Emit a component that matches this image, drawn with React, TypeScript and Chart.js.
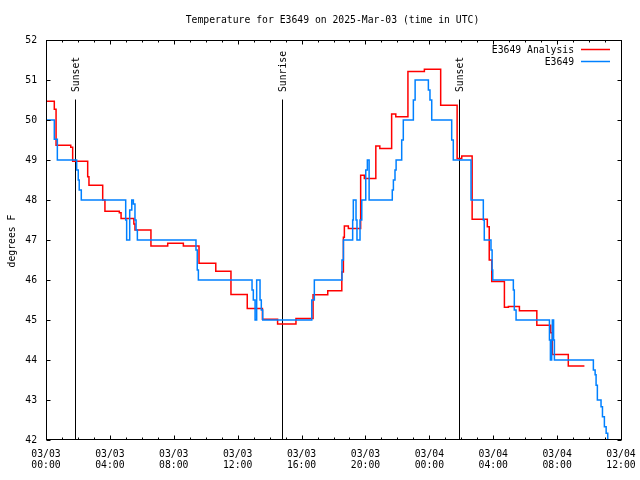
import { useEffect, useRef } from "react";
import { Chart, registerables } from "chart.js";

Chart.register(...registerables);

// ---- data (hours since 03/03 00:00 UTC) ----
const analysisTimes = [0, 0.52, 0.63, 1.55, 1.67, 2.61, 2.69, 3.55, 3.69, 4.59, 4.7, 5.5, 5.57, 6.57, 7.62, 8.6, 9.58, 10.63, 11.58, 12.6, 13.55, 14.5, 15.65, 16.72, 17.64, 18.52, 18.62, 18.68, 18.93, 19.7, 19.93, 20.65, 20.9, 21.64, 21.9, 22.66, 23.69, 24.71, 25.74, 26.03, 26.68, 27.63, 27.75, 27.91, 28.7, 28.95, 29.64, 30.73, 31.6, 31.7, 32.7, 33.71];
const analysisTemps = [50.47, 50.27, 49.37, 49.32, 48.97, 48.58, 48.37, 48.0, 47.72, 47.68, 47.54, 47.4, 47.25, 46.85, 46.92, 46.85, 46.42, 46.22, 45.64, 45.29, 45.02, 44.9, 45.04, 45.63, 45.73, 46.2, 47.07, 47.35, 47.29, 48.62, 48.54, 49.35, 49.29, 50.15, 50.08, 51.21, 51.27, 50.37, 49.04, 49.1, 47.52, 47.33, 46.5, 45.96, 45.32, 45.34, 45.23, 44.87, 44.68, 44.14, 43.85, 43.85];

const obsTimes = [0, 0.52, 0.71, 1.92, 2.02, 2.08, 2.21, 4.99, 5.05, 5.24, 5.37, 5.47, 5.57, 5.64, 5.72, 9.39, 9.47, 9.54, 12.9, 12.98, 13.09, 13.19, 13.4, 13.48, 13.57, 16.64, 16.8, 18.53, 18.62, 19.2, 19.24, 19.41, 19.47, 19.66, 19.77, 20.02, 20.12, 20.23, 21.68, 21.75, 21.85, 21.92, 22.27, 22.37, 23.0, 23.11, 23.94, 24.04, 24.15, 25.4, 25.5, 26.61, 27.38, 27.44, 27.86, 27.93, 27.97, 29.26, 29.32, 29.43, 31.52, 31.58, 31.66, 31.7, 31.78, 31.83, 34.27, 34.38, 34.44, 34.52, 34.75, 34.84, 34.96, 35.07, 35.17, 35.25];
const obsTemps = [50.0, 49.52, 49.0, 48.75, 48.5, 48.25, 48.0, 47.5, 47.0, 47.75, 48.0, 47.9, 47.5, 47.25, 47.0, 46.75, 46.25, 46.0, 45.75, 45.5, 45.0, 46.0, 45.5, 45.25, 45.0, 45.5, 46.0, 46.5, 47.0, 47.5, 48.0, 47.5, 47.0, 47.5, 48.0, 48.75, 49.0, 48.0, 48.25, 48.5, 48.75, 49.0, 49.5, 50.0, 50.5, 51.0, 50.75, 50.5, 50.0, 49.5, 49.0, 48.0, 47.5, 47.0, 46.75, 46.25, 46.0, 45.75, 45.25, 45.0, 44.5, 44.0, 44.5, 45.0, 44.5, 44.0, 43.75, 43.63, 43.37, 43.0, 42.83, 42.58, 42.33, 42.17, 42.0, 41.8];

const xTickLabels = [
  ["03/03", "00:00"], ["03/03", "04:00"], ["03/03", "08:00"], ["03/03", "12:00"], ["03/03", "16:00"],
  ["03/03", "20:00"], ["03/04", "00:00"], ["03/04", "04:00"], ["03/04", "08:00"], ["03/04", "12:00"],
];
const eventTimes = [1.835, 14.8, 25.88];
const eventLabels = ["Sunset", "Sunrise", "Sunset"];
const seriesNames = ["E3649 Analysis", "E3649"];
const seriesColors = ["#ff0000", "#0080ff"];
const titleText = "Temperature for E3649 on 2025-Mar-03 (time in UTC)";
const yTitle = "degrees F";

const FONT = "'DejaVu Sans Mono', 'Liberation Mono', monospace";
const FS = 9.75;

const decorPlugin = {
  id: "decor",
  beforeDatasetsDraw(chart: any) {
    const { ctx, chartArea, scales } = chart;
    const x = scales.x;
    ctx.save();
    ctx.strokeStyle = "#000";
    ctx.lineWidth = 1;
    ctx.fillStyle = "#000";
    ctx.font = `${FS}px ${FONT}`;
    eventTimes.forEach((t, i) => {
      const px = Math.round(x.getPixelForValue(t)) + 0.5;
      ctx.beginPath();
      ctx.moveTo(px, 99.5);
      ctx.lineTo(px, chartArea.bottom);
      ctx.stroke();
      ctx.save();
      ctx.translate(px + 1, 92);
      ctx.rotate(-Math.PI / 2);
      ctx.textAlign = "left";
      ctx.textBaseline = "middle";
      ctx.fillText(eventLabels[i], 0, 0);
      ctx.restore();
    });
    ctx.restore();
  },
  afterDraw(chart: any) {
    const { ctx, chartArea, scales } = chart;
    const { left, right, top, bottom } = chartArea;
    const x = scales.x;
    const y = scales.y;
    ctx.save();
    ctx.strokeStyle = "#000";
    ctx.lineWidth = 1;
    const L = Math.round(left) + 0.5;
    const R = Math.round(right) + 0.5;
    const T = Math.round(top) + 0.5;
    const B = Math.round(bottom) - 0.5;
    ctx.strokeRect(L, T, R - L, B - T);
    ctx.beginPath();
    for (let h = 0; h <= 36; h++) {
      const px = Math.round(x.getPixelForValue(h)) + 0.5;
      const len = h % 4 === 0 ? 4 : 2;
      ctx.moveTo(px, B);
      ctx.lineTo(px, B - len);
      ctx.moveTo(px, T);
      ctx.lineTo(px, T + len);
    }
    y.ticks.forEach((tk: any) => {
      const py = Math.round(y.getPixelForValue(tk.value)) + 0.5;
      ctx.moveTo(L, py);
      ctx.lineTo(L + 4, py);
      ctx.moveTo(R, py);
      ctx.lineTo(R - 4, py);
    });
    ctx.stroke();

    ctx.fillStyle = "#000";
    ctx.font = `${FS}px ${FONT}`;
    ctx.textAlign = "center";
    ctx.textBaseline = "middle";
    ctx.fillText(titleText, 332.5, 20.5);

    ctx.save();
    ctx.translate(12, 241);
    ctx.rotate(-Math.PI / 2);
    ctx.fillText(yTitle, 0, 0);
    ctx.restore();

    ctx.textAlign = "right";
    seriesNames.forEach((name, i) => {
      const ly = 50 + i * 12;
      ctx.fillStyle = "#000";
      ctx.fillText(name, 574, ly);
      ctx.strokeStyle = seriesColors[i];
      ctx.lineWidth = 1.5;
      ctx.beginPath();
      ctx.moveTo(581, ly - 0.5);
      ctx.lineTo(610, ly - 0.5);
      ctx.stroke();
    });
    ctx.restore();
  },
};

export default function App() {
  const ref = useRef<HTMLCanvasElement>(null);
  useEffect(() => {
    const analysis = analysisTimes.map((t, i) => ({ x: t, y: analysisTemps[i] }));
    const obs = obsTimes.map((t, i) => ({ x: t, y: obsTemps[i] }));
    const chart = new Chart(ref.current as HTMLCanvasElement, {
      type: "line",
      data: {
        datasets: [
          {
            label: seriesNames[0],
            data: analysis,
            borderColor: seriesColors[0],
            backgroundColor: seriesColors[0],
            borderWidth: 1.5,
            pointRadius: 0,
            stepped: true,
            fill: false,
            order: 1,
          },
          {
            label: seriesNames[1],
            data: obs,
            borderColor: seriesColors[1],
            backgroundColor: seriesColors[1],
            borderWidth: 1.5,
            pointRadius: 0,
            stepped: true,
            fill: false,
            order: 0,
          },
        ],
      },
      options: {
        responsive: false,
        animation: false,
        devicePixelRatio: 1,
        layout: { padding: { top: 40, right: 19, left: 0, bottom: 0 } },
        plugins: {
          legend: { display: false },
          title: { display: false },
          tooltip: { enabled: false },
        },
        scales: {
          x: {
            type: "linear",
            min: 0,
            max: 36,
            grid: { display: false, drawTicks: false },
            border: { display: false },
            afterFit: (s: any) => {
              s.height = 40;
              s.paddingLeft = 0;
              s.paddingRight = 0;
            },
            ticks: {
              stepSize: 4,
              autoSkip: false,
              maxRotation: 0,
              minRotation: 0,
              padding: 9,
              color: "#000",
              font: { family: FONT, size: FS, lineHeight: 1.13 },
              callback: (v: any) => xTickLabels[Math.round(Number(v) / 4)] as any,
            },
          },
          y: {
            min: 42,
            max: 52,
            grid: { display: false, drawTicks: false },
            border: { display: false },
            afterFit: (s: any) => {
              s.width = 46;
              s.paddingTop = 0;
              s.paddingBottom = 0;
            },
            ticks: {
              stepSize: 1,
              padding: 9,
              color: "#000",
              font: { family: FONT, size: FS },
            },
          },
        },
      },
      plugins: [decorPlugin],
    });
    return () => chart.destroy();
  }, []);
  return (
    <div style={{ position: "fixed", left: 0, top: 0, width: 640, height: 480, background: "#fff" }}>
      <canvas ref={ref} width={640} height={480} style={{ display: "block" }} />
    </div>
  );
}
